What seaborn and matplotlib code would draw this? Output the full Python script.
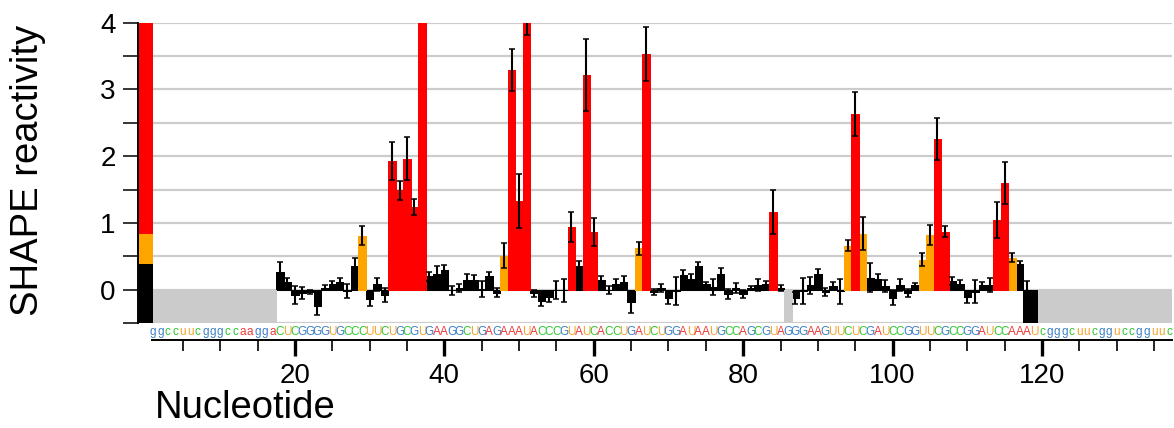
import numpy as np
import pandas as pd
import matplotlib
matplotlib.use("Agg")
import matplotlib.pyplot as plt
import matplotlib.transforms as mtransforms
import seaborn as sns

# ---------------- data ----------------
seq_5prime = "ggccuucgggccaagga"
seq_core = ("CUCGGGGUGCCCUUCUGCGUGAAGGCUGAGAAAUACCCGUAUCACCUGAUCUGGAUAAUG"
            "CCAGCGUAGGGAAGUUCUCGAUCCGGUUCGCCGGAUCCAAAU")
seq_3prime = "cgggcuucgguccgguuc"
first_nt = 18  # first nucleotide with data

nan = np.nan
reactivity = [
    0.27, 0.12, -0.08, -0.05, -0.04, -0.25, 0.03, 0.08, 0.11, -0.02,      # 18-27
    0.35, 0.81, -0.135, 0.08, -0.08, 1.93, 1.49, 1.96, 1.24, 4.6,         # 28-37
    0.20, 0.24, 0.29, -0.01, 0.03, 0.14, 0.14, 0.01, 0.20, -0.045,        # 38-47
    0.51, 3.29, 1.33, 4.02, -0.055, -0.17, -0.11, -0.005, -0.01, 0.94,    # 48-57
    0.36, 3.21, 0.86, 0.14, -0.01, 0.08, 0.11, -0.185, 0.62, 3.53,        # 58-67
    -0.035, 0.025, -0.13, -0.02, 0.22, 0.155, 0.35, 0.08, 0.04, 0.24,     # 68-77
    -0.065, 0.025, -0.065, 0.03, 0.065, 0.08, 1.17, 0.025, nan, -0.125,   # 78-87
    -0.02, 0.065, 0.23, -0.035, 0.055, -0.025, 0.66, 2.63, 0.84, 0.18,    # 88-97
    0.165, 0.055, -0.12, 0.075, -0.045, 0.065, 0.45, 0.82, 2.26, 0.87,    # 98-107
    0.13, 0.08, -0.11, -0.03, 0.07, 0.07, 1.05, 1.60, 0.48, 0.39,         # 108-117
    -0.6, -0.6,                                                           # 118-119
]
stderr = [
    0.14, 0.05, 0.13, 0.09, 0.03, 0.13, 0.04, 0.05, 0.06, 0.10,
    0.12, 0.14, 0.11, 0.10, 0.11, 0.28, 0.145, 0.32, 0.12, 0.4,
    0.07, 0.11, 0.08, 0.07, 0.06, 0.10, 0.08, 0.125, 0.07, 0.07,
    0.19, 0.32, 0.40, 0.2, 0.055, 0.08, 0.075, 0.13, 0.17, 0.23,
    0.07, 0.54, 0.21, 0.06, 0.06, 0.075, 0.095, 0.16, 0.10, 0.40,
    0.05, 0.06, 0.08, 0.21, 0.07, 0.08, 0.06, 0.03, 0.115, 0.085,
    0.07, 0.07, 0.06, 0.03, 0.09, 0.055, 0.33, 0.045, nan, 0.09,
    0.20, 0.13, 0.075, 0.06, 0.055, 0.19, 0.085, 0.33, 0.25, 0.22,
    0.07, 0.095, 0.11, 0.09, 0.06, 0.04, 0.095, 0.145, 0.31, 0.085,
    0.065, 0.06, 0.095, 0.17, 0.05, 0.11, 0.27, 0.32, 0.07, 0.04,
    0.73, 0.05,
]
thresholds = [-0.5, 0.4, 0.85, 4.0]          # colour scale boundaries
level_names = ["low", "mid", "high"]
level_colors = ["black", "orange", "red"]
nt_colors = {"A": "#f03a3a", "C": "#2ec82e", "G": "#3c80c8", "U": "#f5a42a"}
x_major = [20, 40, 60, 80, 100, 120]
y_major = [0, 1, 2, 3, 4]

# ---------------- derived table ----------------
sequence = seq_5prime + seq_core + seq_3prime
n_total = len(sequence)
nts = np.arange(1, n_total + 1)
full_vals = np.full(n_total, np.nan)
full_err = np.full(n_total, np.nan)
full_vals[first_nt - 1:first_nt - 1 + len(reactivity)] = reactivity
full_err[first_nt - 1:first_nt - 1 + len(stderr)] = stderr

df = pd.DataFrame({"nt": nts, "reactivity": full_vals, "err": full_err})
df["level"] = pd.cut(df["reactivity"], bins=[-np.inf, thresholds[1], thresholds[2], np.inf],
                     labels=level_names, right=False).astype(str)
valid = df.dropna(subset=["reactivity"])
nodata = df[df["reactivity"].isna()]

# ---------------- figure ----------------
sns.set_theme(style="ticks")
plt.rcParams["font.family"] = ["Liberation Sans", "DejaVu Sans"]
plt.rcParams["text.color"] = "black"
plt.rcParams["xtick.color"] = "black"
plt.rcParams["ytick.color"] = "black"
plt.rcParams["xtick.labelcolor"] = "black"
plt.rcParams["ytick.labelcolor"] = "black"
plt.rcParams["axes.edgecolor"] = "black"

W, H = 1174, 428
fig = plt.figure(figsize=(W / 100, H / 100), dpi=100)
ax_l, ax_r, ax_t, ax_b = 138.3, 1172.0, 22.7, 323.0
ax = fig.add_axes([ax_l / W, (H - ax_b) / H, (ax_r - ax_l) / W, (ax_b - ax_t) / H])

ymin, ymax = thresholds[0], thresholds[-1]

sns.barplot(data=valid, x="nt", y="reactivity", hue="level", hue_order=level_names,
            palette=dict(zip(level_names, level_colors)), native_scale=True,
            width=1.0, dodge=False, errorbar=None, saturation=1, legend=False,
            linewidth=0, ax=ax, zorder=2)
for p in ax.patches:
    p.set_edgecolor(p.get_facecolor())
    p.set_linewidth(0.5)
    p.set_antialiased(False)

# no-data shading
ax.bar(nodata["nt"], ymin, bottom=0, width=1.0, color="#cbcbcb",
       edgecolor="#cbcbcb", linewidth=0.5, antialiased=False, zorder=2)

# error bars
ax.errorbar(valid["nt"], valid["reactivity"], yerr=valid["err"], fmt="none",
            ecolor="black", elinewidth=1.5, capsize=2.2, capthick=1.1, zorder=4)

# colour-scale key at left edge
key_left, key_right = -0.74, 0.83
for lo, hi, c in zip(thresholds[:-1], thresholds[1:], level_colors):
    ax.bar((key_left + key_right) / 2, hi - lo, bottom=lo, width=key_right - key_left,
           color=c, edgecolor=c, linewidth=0.3, antialiased=False, zorder=5)

# sequence letters
trans = mtransforms.blended_transform_factory(ax.transData, ax.transAxes)
seq_y = (ax_b - 335.3) / (ax_b - ax_t)
for n, ch in zip(nts, sequence):
    ax.text(n, seq_y, ch, transform=trans, ha="center", va="baseline",
            fontsize=8.5, color=nt_colors[ch.upper()], clip_on=False)

# axes limits / ticks
ax.set_xlim(-0.964, 137.4)
ax.set_ylim(ymin, ymax)
ax.set_yticks(y_major)
ax.set_yticks(np.arange(ymin, ymax, 1.0), minor=True)
ax.set_xticks(x_major)
ax.set_xticks([t for t in range(5, n_total + 1, 5) if t not in x_major], minor=True)
ax.set_xlabel("")
ax.set_ylabel("")

ax.grid(axis="y", which="both", color="#cccccc", linewidth=1.6, zorder=0)
ax.grid(axis="x", visible=False)
ax.set_axisbelow(True)

ax.tick_params(axis="y", which="both", direction="out", length=10.8, width=1.1,
               left=True, color="black", labelcolor="black")
ax.tick_params(axis="y", which="major", labelsize=20, pad=5.5)
ax.tick_params(axis="x", which="major", direction="out", length=11.5, width=2.4,
               labelsize=20, pad=5.0, bottom=True, color="black", labelcolor="black")
ax.tick_params(axis="x", which="minor", direction="out", length=8.0, width=1.2,
               bottom=True, color="black")

for s in ["top", "right"]:
    ax.spines[s].set_visible(False)
ax.spines["left"].set_linewidth(1.4)
ax.spines["left"].set_color("black")
ax.spines["bottom"].set_position(("outward", 12))
ax.spines["bottom"].set_bounds(0.85, 137.4)
ax.spines["bottom"].set_linewidth(1.4)
ax.spines["bottom"].set_color("black")

fig.text(28 / W, (H - 170) / H, "SHAPE reactivity", rotation=90, ha="center",
         va="center", fontsize=27.5, color="black")
fig.text(155 / W, (H - 418) / H, "Nucleotide", ha="left", va="baseline",
         fontsize=27.5, color="black")

fig.savefig("out.png", dpi=100)
